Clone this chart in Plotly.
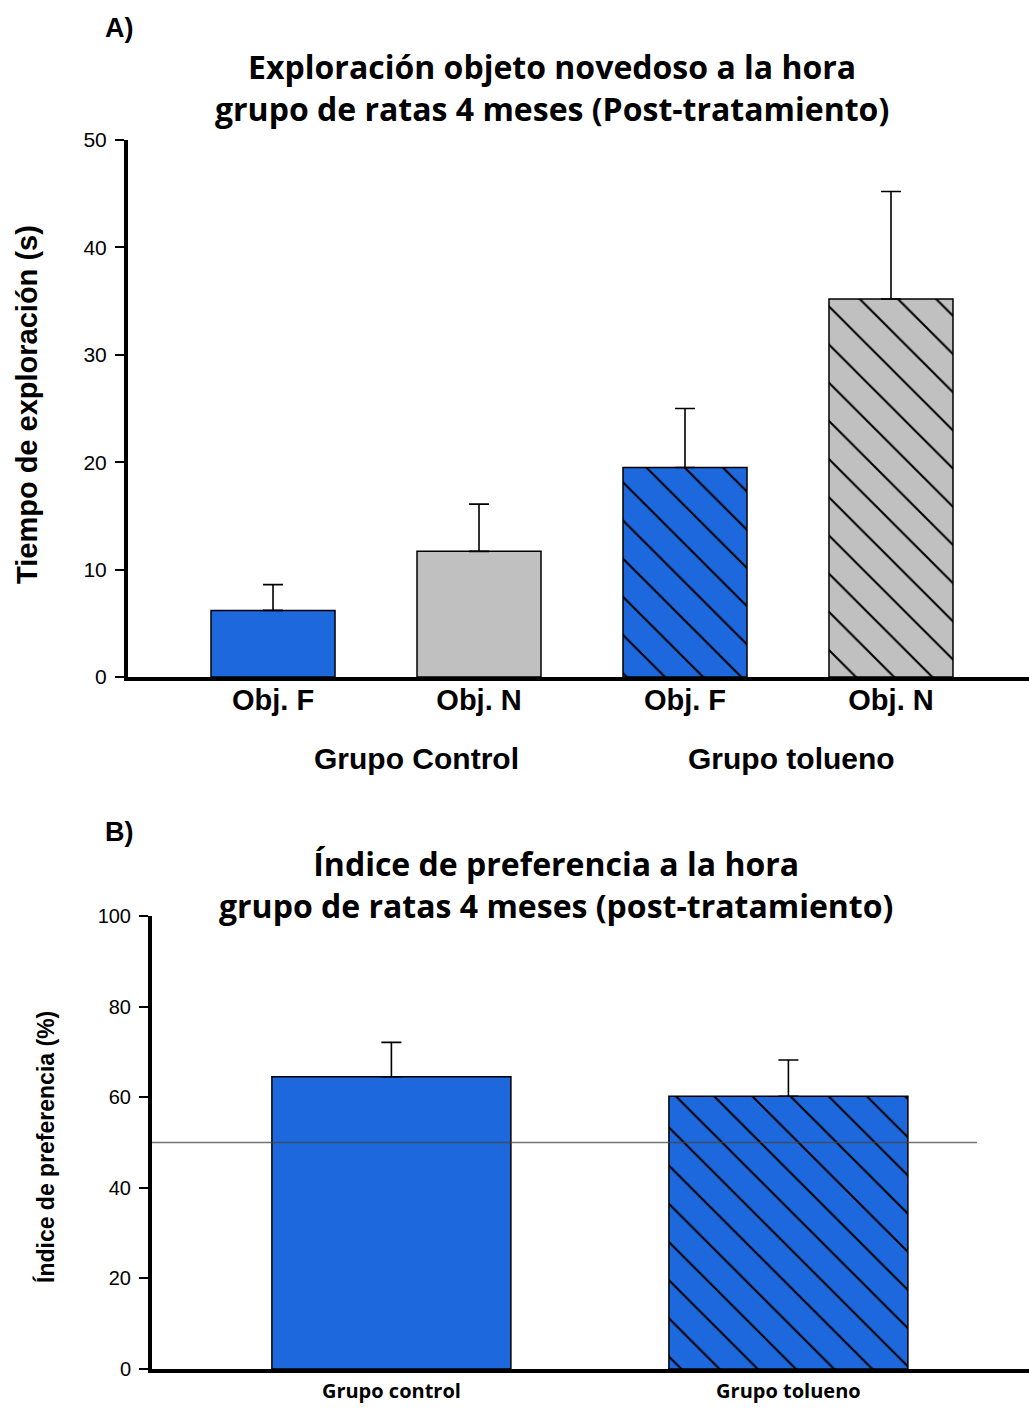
import plotly.graph_objects as go

W, H = 1029, 1410

# ---------------- data ----------------
top_categories = ["Obj. F", "Obj. N", "Obj. F", "Obj. N"]
top_groups = ["Grupo Control", "Grupo tolueno"]
top_values = [6.2, 11.7, 19.5, 35.2]
top_errors = [2.4, 4.4, 5.5, 10.0]
top_colors = ["#1c68dc", "#c0c0c0", "#1c68dc", "#c0c0c0"]
top_patterns = ["", "", "\\", "\\"]

bot_categories = ["Grupo control", "Grupo tolueno"]
bot_values = [64.5, 60.2]
bot_errors = [7.6, 8.0]
bot_colors = ["#1c68dc", "#1c68dc"]
bot_patterns = ["", "\\"]
reference_value = 50

top_title = "Exploración objeto novedoso a la hora<br>grupo de ratas 4 meses (Post-tratamiento)"
bot_title = "Índice de preferencia a la hora<br>grupo de ratas 4 meses (post-tratamiento)"
top_ytitle = "Tiempo de exploración (s)"
bot_ytitle = "Índice de preferencia (%)"


def px(x):
    return x / W


def py(y):
    return 1 - y / H


fig = go.Figure()


def add_bars(values, errors, colors, patterns, xa, ya):
    for i, (v, e, c, p) in enumerate(zip(values, errors, colors, patterns)):
        fig.add_trace(go.Bar(
            x=[i], y=[v], width=0.602,
            marker=dict(color=c, line=dict(color="black", width=1.5),
                        pattern=dict(shape=p, fillmode="replace", fgcolor="black",
                                     bgcolor=c, size=27, solidity=0.075)),
            error_y=dict(type="data", symmetric=False, array=[e], arrayminus=[0],
                         color="black", thickness=1.6, width=10),
            xaxis=xa, yaxis=ya, showlegend=False, hoverinfo="skip"))


add_bars(top_values, top_errors, top_colors, top_patterns, "x", "y")
add_bars(bot_values, bot_errors, bot_colors, bot_patterns, "x2", "y2")

# reference line at 50 %
fig.add_shape(type="line", xref="x2 domain", yref="y2", x0=0, x1=0.9407,
              y0=reference_value, y1=reference_value,
              line=dict(color="rgba(70,70,70,0.75)", width=1.5), layer="above")

fig.update_layout(
    width=W, height=H, margin=dict(l=0, r=0, t=0, b=0, autoexpand=False),
    paper_bgcolor="white", plot_bgcolor="white", barmode="overlay",
    xaxis=dict(domain=[px(128), 1], range=[-0.704, 3.67], automargin=False,
               tickvals=list(range(len(top_categories))), ticktext=top_categories,
               anchor="y",
               showline=True, linecolor="black", linewidth=4, showgrid=False, zeroline=False,
               ticks="", tickfont=dict(family="Liberation Sans, Arial", size=29, color="black",
                                       weight="bold"),
               ticklabelstandoff=-6),
    yaxis=dict(domain=[py(677), py(140)], range=[0, 50], tickvals=[0, 10, 20, 30, 40, 50],
               anchor="x", automargin=False,
               showline=True, linecolor="black", linewidth=4, showgrid=False, zeroline=False,
               ticks="outside", ticklen=9, tickwidth=1.5, tickcolor="black",
               tickfont=dict(family="Liberation Sans, Arial", size=21, color="black"),
               ticklabelstandoff=4),
    xaxis2=dict(domain=[px(152), 1], range=[-0.603, 1.606], automargin=False,
                tickvals=list(range(len(bot_categories))), ticktext=bot_categories,
                anchor="y2",
                showline=True, linecolor="black", linewidth=4, showgrid=False, zeroline=False,
                ticks="", tickfont=dict(family="Open Sans, sans-serif", size=20, color="black",
                                        weight="bold"),
                ticklabelstandoff=1),
    yaxis2=dict(domain=[py(1369), py(916)], range=[0, 100], tickvals=[0, 20, 40, 60, 80, 100],
                anchor="x2", automargin=False,
                showline=True, linecolor="black", linewidth=4, showgrid=False, zeroline=False,
                ticks="outside", ticklen=9, tickwidth=1.5, tickcolor="black",
                tickfont=dict(family="Liberation Sans, Arial", size=20, color="black"),
                ticklabelstandoff=4),
)

title_font = dict(family="Open Sans, sans-serif", size=32, color="black", weight="bold")
ann = [
    dict(text="A)", x=px(103), y=py(28), xanchor="left", yanchor="middle",
         font=dict(family="Liberation Sans, Arial", size=27, color="black", weight="bold")),
    dict(text="B)", x=px(103), y=py(832), xanchor="left", yanchor="middle",
         font=dict(family="Liberation Sans, Arial", size=27, color="black", weight="bold")),
    dict(text=top_title, x=px(552), y=py(87), xanchor="center", yanchor="middle",
         font=title_font),
    dict(text=bot_title, x=px(556), y=py(884), xanchor="center", yanchor="middle",
         font=title_font),
    dict(text=top_groups[0], x=px(416), y=py(758), xanchor="center", yanchor="middle",
         font=dict(family="Liberation Sans, Arial", size=30, color="black", weight="bold")),
    dict(text=top_groups[1], x=px(791), y=py(758), xanchor="center", yanchor="middle",
         font=dict(family="Liberation Sans, Arial", size=30, color="black", weight="bold")),
    dict(text=top_ytitle, x=px(27), y=py(405), xanchor="center", yanchor="middle",
         textangle=-90,
         font=dict(family="Liberation Sans, Arial", size=29, color="black", weight="bold")),
    dict(text=bot_ytitle, x=px(45), y=py(1147), xanchor="center", yanchor="middle",
         textangle=-90,
         font=dict(family="Liberation Sans, Arial", size=23, color="black", weight="bold")),
]
for a in ann:
    a.update(xref="paper", yref="paper", showarrow=False)
fig.update_layout(annotations=ann)

post = (
    "document.documentElement.style.margin='0';"
    "document.documentElement.style.overflow='hidden';"
    "document.body.style.margin='0';document.body.style.padding='0';"
    "document.body.style.overflow='hidden';"
    "var gd=document.getElementsByClassName('plotly-graph-div')[0];"
    "gd.style.position='fixed';gd.style.left='0px';gd.style.top='0px';"
)
fig.write_html("out.html", config={"displayModeBar": False}, post_script=post)
